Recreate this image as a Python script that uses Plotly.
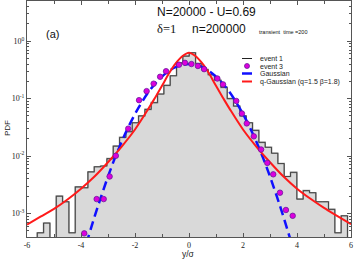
import plotly.graph_objects as go

# ---------------- data ----------------
# event 1 histogram (first bin left edge, bin width, bin heights)
hist_start = -5.62
hist_width = 0.2345
hist_vals = [4.6e-4, 6.8e-4, 0.0, 2.0e-3, 1.6e-3, 4.6e-4, 2.9e-3, 2.8e-3, 5.3e-3, 6.5e-3,
             6.7e-3, 9.0e-3, 0.0149, 0.0211, 0.0265, 0.038, 0.050, 0.065, 0.085, 0.12,
             0.17, 0.25, 0.42, 0.55, 0.63, 0.41, 0.32, 0.26, 0.21, 0.157,
             0.10, 0.074, 0.050, 0.038, 0.028, 0.0173, 0.0142, 0.0112, 7.4e-3, 4.4e-3,
             5.2e-3, 1.78e-3, 2.5e-3, 2.3e-3, 1.6e-3, 1.6e-3, 1.18e-3, 4.6e-4, 9.1e-4]

# event 3 points
ev3_x = [-3.88, -3.42, -3.16, -2.94, -2.71, -2.25, -1.85, -1.57, -1.31, -1.07, -0.85,
         -0.37, -0.15, 0.09, 0.33, 0.56, 1.05, 1.26, 1.75, 1.96, 2.14, 2.40, 2.67,
         2.90, 3.12, 3.37, 3.59, 3.84]
ev3_y = [4.5e-4, 1.78e-3, 1.78e-3, 4.4e-3, 0.0101, 0.030, 0.094, 0.135, 0.182, 0.24, 0.30,
         0.39, 0.42, 0.40, 0.37, 0.326, 0.224, 0.177, 0.091, 0.055, 0.037, 0.022, 0.013,
         7.6e-3, 4.8e-3, 2.3e-3, 1.15e-3, 9.1e-4]

# Gaussian curve (read points)
gauss_x = [-3.8, -3.5, -3.25, -3.0, -2.75, -2.5, -2.25, -2.0, -1.75, -1.5, -1.25, -1.0,
           -0.75, -0.5, -0.25, 0.0, 0.25, 0.5, 0.75, 1.0, 1.25, 1.5, 1.75, 2.0, 2.25,
           2.5, 2.75, 3.0, 3.25, 3.5, 3.8]
gauss_y = [3.0e-4, 8.7e-4, 2.0e-3, 4.4e-3, 9.1e-3, 0.0175, 0.0317, 0.054, 0.086, 0.13,
           0.183, 0.242, 0.301, 0.352, 0.387, 0.399, 0.387, 0.352, 0.301, 0.242, 0.183,
           0.13, 0.086, 0.054, 0.0317, 0.0175, 9.1e-3, 4.4e-3, 2.0e-3, 8.7e-4, 3.0e-4]

# q-Gaussian curve (read points)
qg_x = [-6.0, -5.5, -5.0, -4.5, -4.0, -3.5, -3.0, -2.5, -2.0, -1.5, -1.25, -1.0, -0.75,
        -0.5, -0.25, 0.0, 0.25, 0.5, 0.75, 1.0, 1.25, 1.5, 2.0, 2.5, 3.0, 3.5, 4.0, 4.5,
        5.0, 5.5, 6.0]
qg_y = [6.4e-4, 8.8e-4, 1.2e-3, 1.75e-3, 2.7e-3, 4.4e-3, 7.8e-3, 0.0145, 0.029, 0.067,
        0.105, 0.167, 0.27, 0.405, 0.545, 0.63, 0.545, 0.405, 0.27, 0.167, 0.105, 0.067,
        0.029, 0.0145, 7.8e-3, 4.4e-3, 2.7e-3, 1.8e-3, 1.25e-3, 9.0e-4, 6.5e-4]

x_ticks = [-6, -4, -2, 0, 2, 4, 6]
y_ticks = [1e-3, 1e-2, 1e-1, 1]
y_ticktext = ["10<sup>-3</sup>", "10<sup>-2</sup>", "10<sup>-1</sup>", "10<sup>0</sup>"]

# ---------------- build histogram step path ----------------
floor = 1e-6
edges = [hist_start + i * hist_width for i in range(len(hist_vals) + 1)]
sx, sy = [edges[0]], [floor]
for i, v in enumerate(hist_vals):
    vv = v if v > 0 else floor
    sx += [edges[i], edges[i + 1]]
    sy += [vv, vv]
sx.append(edges[-1])
sy.append(floor)

fig = go.Figure()
fig.add_trace(go.Scatter(x=sx, y=sy, mode="lines", fill="toself", fillcolor="#d9d9d9",
                         line=dict(width=0), hoverinfo="skip"))
fig.add_trace(go.Scatter(x=sx, y=sy, mode="lines", line=dict(color="#9a9a9a", width=1.6),
                         hoverinfo="skip"))
fig.add_trace(go.Scatter(x=sx, y=sy, mode="lines", line=dict(color="#222222", width=0.7),
                         name="event 1"))
fig.add_trace(go.Scatter(x=gauss_x, y=gauss_y, mode="lines", name="Gaussian",
                         line=dict(color="#1010ff", width=2.5, dash="9px,5px", shape="spline")))
fig.add_trace(go.Scatter(x=qg_x, y=qg_y, mode="lines", name="q-Gaussian",
                         line=dict(color="#ff1a1a", width=2.0, shape="spline")))
fig.add_trace(go.Scatter(x=ev3_x, y=ev3_y, mode="markers", name="event 3",
                         marker=dict(color="#dd00dd", size=5.5,
                                     line=dict(color="#6a1b9a", width=0.8))))

# ---------------- text ----------------
W, H = 324.0, 236.0
def px(x):
    return (x - 27) / W
def py(y):
    return (237 - y) / H

ann = []
sans = "Liberation Sans"
serif = "Liberation Serif"
ann.append(dict(text="N=20000 - U=0.69", x=px(155), y=py(12), xanchor="left", yanchor="middle",
                font=dict(family=sans, size=12, color="#111")))
ann.append(dict(text="δ=1", x=px(155), y=py(29), xanchor="left", yanchor="middle",
                font=dict(family=serif, size=12.5, color="#111")))
ann.append(dict(text="n=200000", x=px(190), y=py(29), xanchor="left", yanchor="middle",
                font=dict(family=sans, size=12, color="#111")))
ann.append(dict(text="transient  time =200", x=px(257), y=py(32), xanchor="left",
                yanchor="middle", font=dict(family=sans, size=5.5, color="#111")))
ann.append(dict(text="(a)", x=px(44), y=py(34), xanchor="left", yanchor="middle",
                font=dict(family=sans, size=11, color="#111")))
ann.append(dict(text="PDF", x=px(7), y=py(128), xanchor="center", yanchor="middle",
                textangle=-90, font=dict(family=sans, size=8, color="#222")))
ann.append(dict(text="y/σ", x=px(188), y=py(254), xanchor="center", yanchor="middle",
                font=dict(family=sans, size=8.5, color="#222")))

leg_rows = [("event 1", 58.5), ("event 3", 66), ("Gaussian", 73.5), ("q-Gaussian (q=1.5 β=1.8)", 81.5)]
shapes = []
for label, yy in leg_rows:
    ann.append(dict(text=label, x=px(258), y=py(yy), xanchor="left", yanchor="middle",
                    font=dict(family=sans, size=7, color="#222")))
shapes.append(dict(type="line", xref="paper", yref="paper", x0=px(242), x1=px(252),
                   y0=py(58.5), y1=py(58.5), line=dict(color="#222", width=1)))
shapes.append(dict(type="circle", xref="paper", yref="paper", x0=px(244.5), x1=px(249.5),
                   y0=py(68.5), y1=py(63.5), fillcolor="#dd00dd",
                   line=dict(color="#6a1b9a", width=0.8)))
shapes.append(dict(type="line", xref="paper", yref="paper", x0=px(242), x1=px(252),
                   y0=py(73.5), y1=py(73.5), line=dict(color="#1010ff", width=2.5)))
shapes.append(dict(type="line", xref="paper", yref="paper", x0=px(242), x1=px(252),
                   y0=py(81.5), y1=py(81.5), line=dict(color="#ff1a1a", width=2.0)))

for a in ann:
    a.update(xref="paper", yref="paper", showarrow=False)

axis_col = "#555555"
fig.update_layout(
    width=354, height=259,
    margin=dict(l=27, r=3, t=1, b=22),
    paper_bgcolor="white", plot_bgcolor="white",
    showlegend=False,
    annotations=ann, shapes=shapes,
    xaxis=dict(range=[-6, 6], showgrid=False, zeroline=False, showline=True,
               automargin=False,
               linecolor=axis_col, linewidth=1, mirror="ticks", ticks="inside",
               ticklen=4, tickcolor=axis_col, tickvals=x_ticks,
               ticktext=[str(v) for v in x_ticks],
               tickfont=dict(family=serif, size=8, color="#222"),
               minor=dict(dtick=1, tick0=0, ticks="inside", ticklen=3, tickcolor=axis_col)),
    yaxis=dict(type="log", range=[-3.41, 0.70], showgrid=False, zeroline=False,
               automargin=False,
               showline=True, linecolor=axis_col, linewidth=1, mirror="ticks",
               ticks="inside", ticklen=4, tickcolor=axis_col,
               tickvals=y_ticks, ticktext=y_ticktext,
               tickfont=dict(family=serif, size=8, color="#222"),
               minor=dict(tickvals=[k * 10 ** e for e in range(-4, 1) for k in range(2, 10)],
                          ticks="inside", ticklen=2, tickcolor=axis_col)),
)

fig.write_html("out.html", config={"displayModeBar": False},
               post_script="document.body.style.margin='0px';")
